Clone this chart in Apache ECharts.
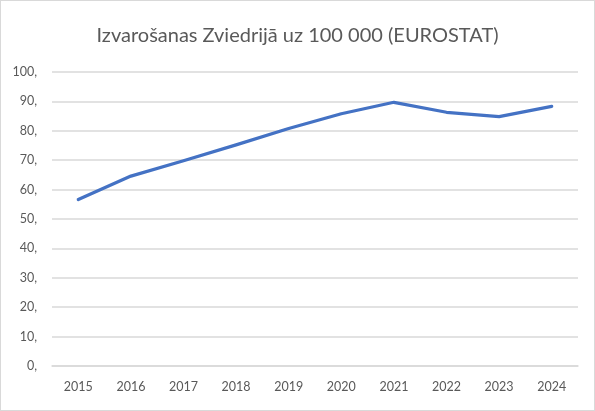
<!DOCTYPE html>
<html>
<head>
<meta charset="utf-8">
<script src="https://cdn.jsdelivr.net/npm/echarts@6/dist/echarts.min.js"></script>
<style>
  html, body { margin: 0; padding: 0; background: #fff; }
  #plot { width: 593px; height: 409px; border: 1px solid #d9d9d9; }
</style>
</head>
<body>
<div id="plot"></div>
<script>
const years = ['2015', '2016', '2017', '2018', '2019', '2020', '2021', '2022', '2023', '2024'];
const values = [56.6, 64.6, 69.8, 75.2, 80.8, 85.8, 89.7, 86.3, 84.8, 88.3];
const titleText = 'Izvarošanas Zviedrijā uz 100 000 (EUROSTAT)';

function drawPlot() {
    const chartDom = document.getElementById('plot');
    const myChart = echarts.init(chartDom);

    const option = {
        animation: false,
        title: {
            text: titleText,
            left: 'center',
            top: 20,
            textStyle: {
                fontFamily: 'Lato',
                fontWeight: 'normal',
                fontSize: 20,
                color: '#595959'
            }
        },
        grid: { left: 51, right: 16, top: 71, bottom: 44 },
        xAxis: {
            type: 'category',
            data: years,
            boundaryGap: true,
            axisLine: { lineStyle: { color: '#d9d9d9', width: 1.5 } },
            axisTick: { show: false },
            axisLabel: {
                color: '#595959',
                fontFamily: 'Lato',
                fontSize: 12.5,
                margin: 14
            }
        },
        yAxis: {
            type: 'value',
            min: 0,
            max: 100,
            interval: 10,
            axisLine: { show: false },
            axisTick: { show: false },
            splitLine: { lineStyle: { color: '#d9d9d9', width: 1.5 } },
            axisLabel: {
                color: '#595959',
                fontFamily: 'Lato',
                fontSize: 12.5,
                margin: 15,
                formatter: v => v + ','
            }
        },
        series: [{
            type: 'line',
            data: values,
            symbol: 'none',
            smooth: false,
            lineStyle: { color: '#4472c4', width: 3.25, cap: 'round', join: 'round' }
        }]
    };

    myChart.setOption(option);
    window.addEventListener('resize', () => myChart.resize());
}

drawPlot();
</script>
</body>
</html>
